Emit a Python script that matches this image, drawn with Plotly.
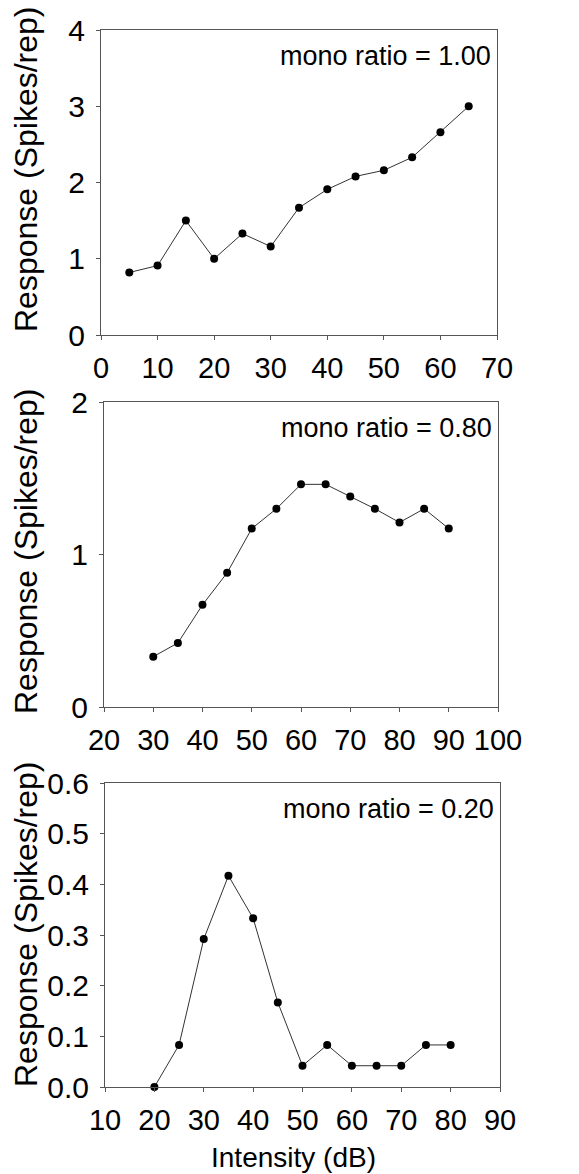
import plotly.graph_objects as go

W, H = 579, 1174
OFF = 8  # page body margin
FW, FH = W - OFF, H - OFF

# Panel 1 (mono ratio = 1.00)
x1 = [5, 10, 15, 20, 25, 30, 35, 40, 45, 50, 55, 60, 65]
y1 = [0.82, 0.91, 1.50, 1.00, 1.33, 1.16, 1.67, 1.91, 2.08, 2.16, 2.33, 2.66, 3.00]
# Panel 2 (mono ratio = 0.80)
x2 = [30, 35, 40, 45, 50, 55, 60, 65, 70, 75, 80, 85, 90]
y2 = [0.33, 0.42, 0.67, 0.88, 1.17, 1.30, 1.46, 1.46, 1.38, 1.30, 1.21, 1.30, 1.17]
# Panel 3 (mono ratio = 0.20)
x3 = [20, 25, 30, 35, 40, 45, 50, 55, 60, 65, 70, 75, 80]
y3 = [0.0, 0.083, 0.292, 0.417, 0.333, 0.167, 0.042, 0.083, 0.042, 0.042, 0.042, 0.083, 0.083]

labels = ["mono ratio = 1.00", "mono ratio = 0.80", "mono ratio = 0.20"]
ytitle = "Response (Spikes/rep)"
xtitle = "Intensity (dB)"
xranges = [[0, 70], [20, 100], [10, 90]]
yranges = [[0, 4], [0, 2], [0, 0.6]]
ydtick = [1, 1, 0.1]
yfmt = ["", "", ".1f"]

# pixel boxes in page coords (left, right, top, bottom)
boxes = [(101, 497, 30, 335), (104, 498, 402, 707), (105, 500, 783, 1087)]
ytitle_y = [170, 552, 925]
ytitle_x = 26

FONT = "Liberation Sans, Arial, sans-serif"


def px(x):
    return (x - OFF) / FW


def py(y):
    return 1 - (y - OFF) / FH


fig = go.Figure()
series = [(x1, y1), (x2, y2), (x3, y3)]
for i, (xs, ys) in enumerate(series):
    sfx = "" if i == 0 else str(i + 1)
    fig.add_trace(go.Scatter(
        x=xs, y=ys, mode="lines+markers",
        xaxis="x" + sfx, yaxis="y" + sfx,
        line=dict(color="#333333", width=1),
        marker=dict(color="black", size=8),
        showlegend=False, cliponaxis=False,
    ))

layout = dict(
    width=FW, height=FH,
    margin=dict(l=0, r=0, t=0, b=0, autoexpand=False),
    paper_bgcolor="white", plot_bgcolor="white",
    font=dict(family=FONT, color="black"),
    annotations=[],
)
for i in range(3):
    sfx = "" if i == 0 else str(i + 1)
    l, r, t, b = boxes[i]
    layout["xaxis" + sfx] = dict(
        domain=[px(l), px(r)], range=xranges[i], dtick=10, tick0=0,
        anchor="y" + sfx, showgrid=False, zeroline=False, automargin=False,
        showline=True, linecolor="#555555", linewidth=1, mirror=True,
        ticks="outside", ticklen=4, tickcolor="#555555",
        tickfont=dict(size=29, family=FONT, color="black"),
        ticklabelstandoff=3,
    )
    layout["yaxis" + sfx] = dict(
        domain=[py(b), py(t)], range=yranges[i], dtick=ydtick[i], tick0=0,
        tickformat=yfmt[i],
        anchor="x" + sfx, showgrid=False, zeroline=False, automargin=False,
        showline=True, linecolor="#555555", linewidth=1, mirror=True,
        ticks="outside", ticklen=4, tickcolor="#555555",
        tickfont=dict(size=30, family=FONT, color="black"),
        ticklabelstandoff=5,
    )
    layout["annotations"].append(dict(
        text=labels[i], xref="x" + sfx + " domain", yref="y" + sfx + " domain",
        x=0.99, y=0.97, xanchor="right", yanchor="top", showarrow=False,
        font=dict(size=27, family=FONT, color="black"),
    ))
    layout["annotations"].append(dict(
        text=ytitle, xref="paper", yref="paper",
        x=px(ytitle_x), y=py(ytitle_y[i]), xanchor="center", yanchor="middle",
        textangle=-90, showarrow=False,
        font=dict(size=32, family=FONT, color="black"),
    ))

layout["annotations"].append(dict(
    text=xtitle, xref="paper", yref="paper",
    x=px(293), y=py(1157), xanchor="center", yanchor="middle", showarrow=False,
    font=dict(size=28, family=FONT, color="black"),
))

fig.update_layout(**layout)
fig.write_html("out.html")
